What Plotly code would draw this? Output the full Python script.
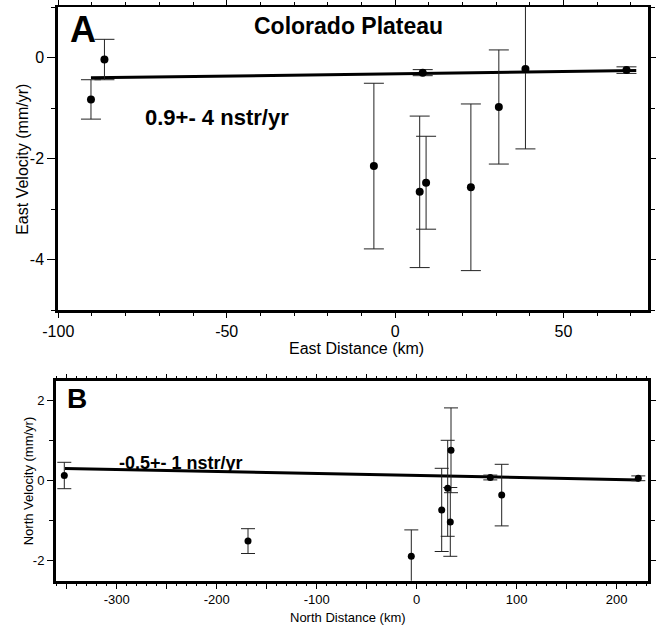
import plotly.graph_objects as go

# ---- Panel A: east velocity vs east distance ----
east_dist = [-90.3, -86.3, -6.3, 7.3, 9.2, 22.5, 30.8, 38.7, 8.2, 68.7]
east_vel = [-0.83, -0.04, -2.15, -2.66, -2.48, -2.57, -0.98, -0.23, -0.30, -0.25]
east_err = [0.39, 0.40, 1.64, 1.50, 0.92, 1.65, 1.13, 1.58, 0.06, 0.065]
east_rate = 0.9          # nstr/yr
east_rate_err = 4
east_offset = -0.322     # mm/yr at zero distance
east_fit_ends = [-90.3, 71.6]

east_xtick_vals = [-100, -50, 0, 50]
east_xtick_text = ["-100", "-50", "0", "50"]
east_ytick_vals = [0, -2, -4]
east_ytick_text = ["0", "-2", "-4"]

# ---- Panel B: north velocity vs north distance ----
north_dist = [-352.4, -168.7, -5.4, 25.0, 31.0, 34.3, 33.6, 73.6, 85.0, 221.6]
north_vel = [0.13, -1.51, -1.89, -0.73, -0.19, 0.76, -1.03, 0.08, -0.36, 0.06]
north_err = [0.33, 0.31, 0.66, 1.04, 1.20, 1.06, 0.86, 0.06, 0.77, 0.06]
north_rate = -0.5        # nstr/yr
north_rate_err = 1
north_offset = 0.13
north_fit_ends = [-351.7, 222.6]

north_xtick_vals = [-350, -300, -250, -200, -150, -100, -50, 0, 50, 100, 150, 200]
north_xtick_text = ["", "-300", "", "-200", "", "-100", "", "0", "", "100", "", "200"]
north_ytick_vals = [2, 0, -2]
north_ytick_text = ["2", "0", "-2"]

W, H = 656, 628
FONT = "Liberation Sans, Arial, Helvetica, sans-serif"


def px(x, y):
    return x / W, 1 - y / H


def fit_line(ends, offset, rate):
    # nstr/yr * km -> mm/yr
    return [offset + rate * 1e-3 * d for d in ends]


fig = go.Figure()

fig.add_trace(go.Scatter(
    x=east_fit_ends, y=fit_line(east_fit_ends, east_offset, east_rate),
    mode="lines", line=dict(color="black", width=3),
    xaxis="x", yaxis="y", showlegend=False, hoverinfo="skip"))
fig.add_trace(go.Scatter(
    x=east_dist, y=east_vel, mode="markers",
    marker=dict(color="black", size=8),
    error_y=dict(type="data", array=east_err, color="#222", thickness=1, width=10),
    xaxis="x", yaxis="y", showlegend=False))

fig.add_trace(go.Scatter(
    x=north_fit_ends, y=fit_line(north_fit_ends, north_offset, north_rate),
    mode="lines", line=dict(color="black", width=3),
    xaxis="x2", yaxis="y2", showlegend=False, hoverinfo="skip"))
fig.add_trace(go.Scatter(
    x=north_dist, y=north_vel, mode="markers",
    marker=dict(color="black", size=7),
    error_y=dict(type="data", array=north_err, color="#222", thickness=1, width=7),
    xaxis="x2", yaxis="y2", showlegend=False))

# empty traces so the top frame axes get drawn
fig.add_trace(go.Scatter(x=[], y=[], xaxis="x3", yaxis="y", showlegend=False))
fig.add_trace(go.Scatter(x=[], y=[], xaxis="x4", yaxis="y2", showlegend=False))

xA = [58.3 / W, 647.7 / W]
yA = [1 - 310 / H, 1 - 7 / H]
xB = [56 / W, 647.7 / W]
yB = [1 - 580.7 / H, 1 - 380.7 / H]
rxA = [-100, 75]
rxB = [-360.7, 231]

common = dict(showgrid=False, zeroline=False, showline=True, linecolor="black",
              automargin=False,
              ticks="outside", tickcolor="black", tickwidth=1,
              tickfont=dict(family=FONT, color="black"))

fig.update_layout(
    template="none",
    width=W, height=H, margin=dict(l=0, r=0, t=0, b=0, autoexpand=False),
    plot_bgcolor="white", paper_bgcolor="white", showlegend=False,
    xaxis=dict(common, domain=xA, anchor="y", range=rxA, linewidth=3,
               tickmode="array", tickvals=east_xtick_vals, ticktext=east_xtick_text,
               ticklen=5, tickfont=dict(family=FONT, size=16, color="black"),
               minor=dict(dtick=10, ticks="outside", ticklen=3, tickcolor="black")),
    yaxis=dict(common, domain=yA, anchor="x", range=[-5, 1], linewidth=3, mirror="ticks",
               tickmode="array", tickvals=east_ytick_vals, ticktext=east_ytick_text,
               ticklen=8, tickfont=dict(family=FONT, size=16, color="black"),
               minor=dict(dtick=1, ticks="outside", ticklen=4, tickcolor="black")),
    xaxis3=dict(common, domain=xA, anchor="y", overlaying="x", side="top", range=rxA,
                linewidth=2, dtick=50, tick0=0, ticklen=6, showticklabels=False,
                minor=dict(dtick=10, ticks="outside", ticklen=3, tickcolor="black")),
    xaxis2=dict(common, domain=xB, anchor="y2", range=rxB, linewidth=3,
                tickmode="array", tickvals=north_xtick_vals, ticktext=north_xtick_text,
                ticklen=5, tickfont=dict(family=FONT, size=13, color="black"),
                minor=dict(dtick=10, ticks="outside", ticklen=2, tickcolor="black")),
    yaxis2=dict(common, domain=yB, anchor="x2", range=[-2.5, 2.5], linewidth=3, mirror="ticks",
                tickmode="array", tickvals=north_ytick_vals, ticktext=north_ytick_text,
                ticklen=6, tickfont=dict(family=FONT, size=13, color="black"),
                minor=dict(dtick=1, ticks="outside", ticklen=4, tickcolor="black")),
    xaxis4=dict(common, domain=xB, anchor="y2", overlaying="x2", side="top", range=rxB,
                linewidth=3, dtick=50, tick0=0, ticklen=4, showticklabels=False,
                minor=dict(dtick=10, ticks="outside", ticklen=2, tickcolor="black")),
)


def note(text, x, y, size, bold=False, xanchor="center", angle=0):
    ax, ay = px(x, y)
    fig.add_annotation(text=f"<b>{text}</b>" if bold else text, x=ax, y=ay,
                       xref="paper", yref="paper", xanchor=xanchor, yanchor="middle",
                       textangle=angle, showarrow=False,
                       font=dict(family=FONT, size=size, color="black"))


note("A", 68, 29, 36, bold=True, xanchor="left")
note("Colorado Plateau", 348, 26, 23, bold=True)
note(f"{east_rate}+- {east_rate_err} nstr/yr", 143, 117, 22, bold=True, xanchor="left")
note("East Velocity (mm/yr)", 22.3, 159.5, 16, angle=-90)
note("East Distance (km)", 356, 348, 16)

note("B", 65, 398, 28, bold=True, xanchor="left")
note(f"{north_rate}+- {north_rate_err} nstr/yr", 116.7, 463, 18, bold=True, xanchor="left")
note("North Velocity (mm/yr)", 28.3, 481, 13, angle=-90)
note("North Distance (km)", 347.5, 617, 13)

fig.write_html("out.html")
